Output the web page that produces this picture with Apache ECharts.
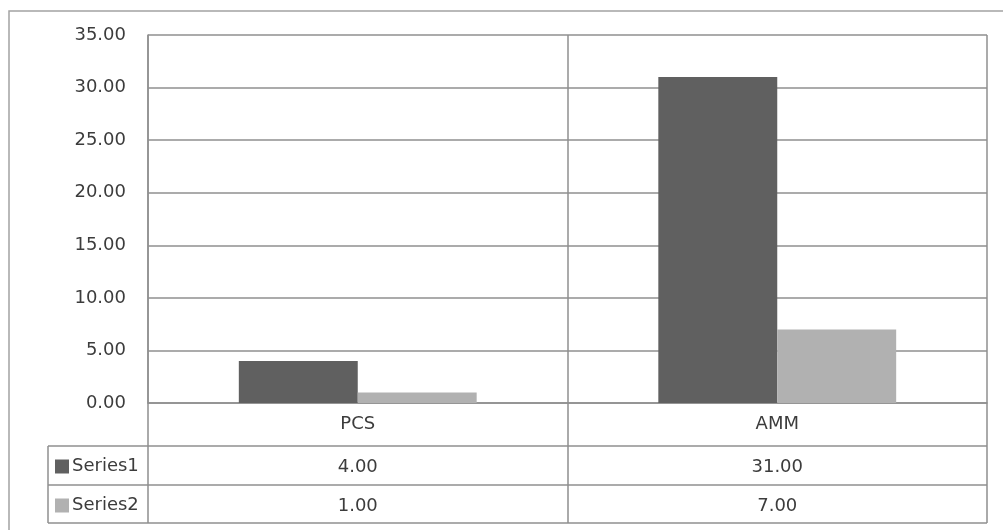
<!DOCTYPE html>
<html>
<head>
<meta charset="utf-8">
<style>
  html, body { margin: 0; padding: 0; background: #ffffff; }
  #chart { width: 1003px; height: 530px; }
</style>
<script src="https://cdn.jsdelivr.net/npm/echarts@6/dist/echarts.min.js"></script>
</head>
<body>
<div id="chart"></div>
<script>
// Categories, series values and value-axis ticks
const categories = ['PCS', 'AMM'];
const seriesNames = ['Series1', 'Series2'];
const series1 = [4, 31];
const series2 = [1, 7];
const yMin = 0, yMax = 35, yStep = 5;

const fmt = v => Number(v).toFixed(2);
const gridColor = '#8f8f8f';
const textColor = '#3c3c3c';
const font = 'DejaVu Sans';
const fontSize = 18;

const chart = echarts.init(document.getElementById('chart'), null, { renderer: 'canvas' });

// Data-table row: a category axis carrying formatted values, placed under the plot
function tableRowAxis(values, margin) {
  return {
    type: 'category',
    gridIndex: 0,
    position: 'bottom',
    data: values.map(fmt),
    axisLine: { show: false },
    axisTick: { show: false },
    splitLine: { show: false },
    axisLabel: {
      margin: margin,
      verticalAlign: 'middle',
      color: textColor,
      fontFamily: font,
      fontSize: fontSize
    }
  };
}

// Legend key for one data-table row
function rowKey(name, top) {
  return {
    orient: 'vertical',
    left: 50,
    top: top,
    data: [name],
    icon: 'rect',
    itemWidth: 14,
    itemHeight: 14,
    textStyle: { color: textColor, fontFamily: font, fontSize: fontSize, padding: [0, 0, 0, -2] },
    selectedMode: false
  };
}

const option = {
  animation: false,
  backgroundColor: '#ffffff',
  grid: { left: 148, right: 16, top: 35, bottom: 127, containLabel: false },
  legend: [rowKey(seriesNames[0], 452.5), rowKey(seriesNames[1], 491.5)],
  xAxis: [
    {
      type: 'category',
      data: categories,
      boundaryGap: true,
      axisLine: { show: true, lineStyle: { color: gridColor, width: 1.5 } },
      axisTick: { show: true, inside: false, length: 120, lineStyle: { color: gridColor, width: 1.5 } },
      splitLine: { show: true, lineStyle: { color: gridColor, width: 1.5 } },
      axisLabel: {
        margin: 21,
        verticalAlign: 'middle',
        color: textColor,
        fontFamily: font,
        fontSize: fontSize
      }
    },
    tableRowAxis(series1, 64),
    tableRowAxis(series2, 103)
  ],
  yAxis: {
    type: 'value',
    min: yMin,
    max: yMax,
    interval: yStep,
    axisLine: { show: true, lineStyle: { color: gridColor, width: 1.5 } },
    axisTick: { show: false },
    splitLine: { show: true, lineStyle: { color: gridColor, width: 1.5 } },
    axisLabel: {
      margin: 22,
      formatter: v => fmt(v),
      color: textColor,
      fontFamily: font,
      fontSize: fontSize,
      padding: [4, 0, 0, 0]
    }
  },
  series: [
    {
      name: seriesNames[0],
      type: 'bar',
      data: series1,
      itemStyle: { color: '#606060' },
      barGap: '0%',
      barCategoryGap: '43.3%'
    },
    {
      name: seriesNames[1],
      type: 'bar',
      data: series2,
      itemStyle: { color: '#b1b1b1' },
      barGap: '0%',
      barCategoryGap: '43.3%'
    }
  ],
  graphic: [
    // outer chart frame (open to the right and bottom)
    { type: 'rect', silent: true, shape: { x: 9, y: 11, width: 1100, height: 600 },
      style: { fill: null, stroke: '#a3a3a3', lineWidth: 1.5 } },
    // data-table rules
    { type: 'line', silent: true, shape: { x1: 48, y1: 446, x2: 987, y2: 446 }, style: { stroke: gridColor, lineWidth: 1.5 } },
    { type: 'line', silent: true, shape: { x1: 48, y1: 485, x2: 987, y2: 485 }, style: { stroke: gridColor, lineWidth: 1.5 } },
    { type: 'line', silent: true, shape: { x1: 48, y1: 523, x2: 987, y2: 523 }, style: { stroke: gridColor, lineWidth: 1.5 } },
    { type: 'line', silent: true, shape: { x1: 48, y1: 446, x2: 48, y2: 523 }, style: { stroke: gridColor, lineWidth: 1.5 } }
  ]
};

chart.setOption(option);
</script>
</body>
</html>
